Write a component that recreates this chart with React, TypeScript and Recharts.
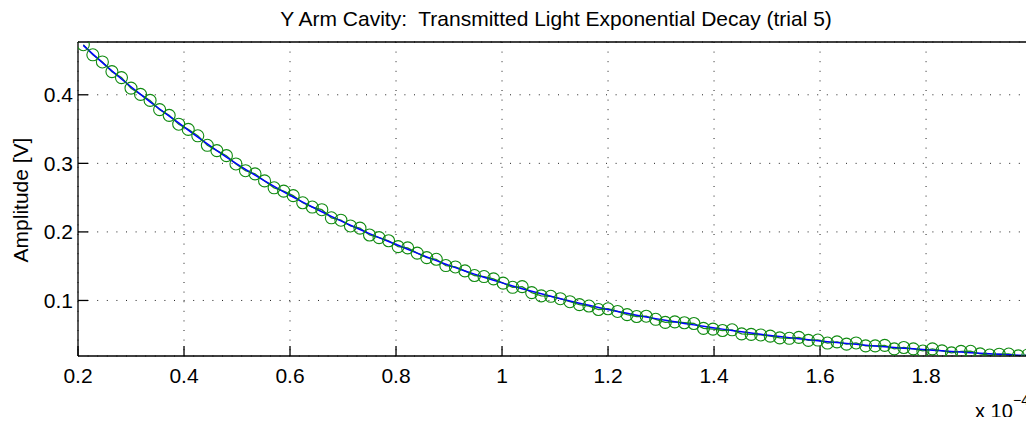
import { ComposedChart, Line, Scatter, XAxis, YAxis, CartesianGrid } from 'recharts';

// time axis, units of 1e-4 s
const TIME = [
  0.21, 0.228, 0.246, 0.264, 0.282, 0.3, 0.318, 0.336, 0.354, 0.372,
  0.39, 0.408, 0.426, 0.444, 0.462, 0.48, 0.498, 0.516, 0.534, 0.552,
  0.57, 0.588, 0.606, 0.624, 0.642, 0.66, 0.678, 0.696, 0.714, 0.732,
  0.75, 0.768, 0.786, 0.804, 0.822, 0.84, 0.858, 0.876, 0.894, 0.912,
  0.93, 0.948, 0.966, 0.984, 1.002, 1.02, 1.038, 1.056, 1.074, 1.092,
  1.11, 1.128, 1.146, 1.164, 1.182, 1.2, 1.218, 1.236, 1.254, 1.272,
  1.29, 1.308, 1.326, 1.344, 1.362, 1.38, 1.398, 1.416, 1.434, 1.452,
  1.47, 1.488, 1.506, 1.524, 1.542, 1.56, 1.578, 1.596, 1.614, 1.632,
  1.65, 1.668, 1.686, 1.704, 1.722, 1.74, 1.758, 1.776, 1.794, 1.812,
  1.83, 1.848, 1.866, 1.884, 1.902, 1.92, 1.938, 1.956, 1.974, 1.992,
];

// measured amplitude [V] (green circles)
const MEASURED = [
  0.473, 0.4583, 0.4479, 0.4338, 0.4251, 0.4097, 0.4006, 0.3918, 0.3783, 0.37,
  0.3571, 0.3495, 0.3402, 0.3263, 0.3186, 0.3112, 0.2991, 0.2893, 0.2847, 0.2744,
  0.2643, 0.2595, 0.2529, 0.2425, 0.2363, 0.2324, 0.2206, 0.2171, 0.2087, 0.2055,
  0.1955, 0.1917, 0.1871, 0.1786, 0.1767, 0.169, 0.1625, 0.1601, 0.1509, 0.1489,
  0.1431, 0.1364, 0.1349, 0.1315, 0.1253, 0.1192, 0.1202, 0.1114, 0.1067, 0.1061,
  0.1026, 0.0982, 0.094, 0.0919, 0.0868, 0.0879, 0.084, 0.0793, 0.0766, 0.077,
  0.0725, 0.0681, 0.0688, 0.0675, 0.0664, 0.0593, 0.0582, 0.0562, 0.0572, 0.0513,
  0.0505, 0.0497, 0.048, 0.0454, 0.0448, 0.0462, 0.0418, 0.0423, 0.0379, 0.0396,
  0.0363, 0.038, 0.0338, 0.0337, 0.0345, 0.0294, 0.0314, 0.0294, 0.0264, 0.0294,
  0.0265, 0.0236, 0.0258, 0.0259, 0.0221, 0.0204, 0.0216, 0.0219, 0.0192, 0.0205,
];

// exponential fit (blue line)
const FIT = [
  0.472, 0.4593, 0.4469, 0.4348, 0.4231, 0.4117, 0.4006, 0.3898, 0.3793, 0.369,
  0.3591, 0.3485, 0.3382, 0.3283, 0.3186, 0.3092, 0.3001, 0.2913, 0.2827, 0.2744,
  0.2663, 0.2585, 0.2509, 0.2435, 0.2363, 0.2294, 0.2226, 0.2161, 0.2097, 0.2035,
  0.1975, 0.1917, 0.1861, 0.1806, 0.1747, 0.169, 0.1635, 0.1581, 0.1529, 0.1479,
  0.1431, 0.1384, 0.1339, 0.1295, 0.1253, 0.1212, 0.1172, 0.1134, 0.1097, 0.1061,
  0.1026, 0.0992, 0.096, 0.0929, 0.0898, 0.0869, 0.084, 0.0813, 0.0786, 0.076,
  0.0735, 0.0711, 0.0688, 0.0665, 0.0644, 0.0623, 0.0602, 0.0582, 0.0562, 0.0543,
  0.0525, 0.0507, 0.049, 0.0474, 0.0458, 0.0442, 0.0428, 0.0413, 0.0399, 0.0386,
  0.0373, 0.036, 0.0348, 0.0337, 0.0325, 0.0314, 0.0304, 0.0294, 0.0284, 0.0274,
  0.0265, 0.0256, 0.0248, 0.0239, 0.0231, 0.0224, 0.0216, 0.0209, 0.0202, 0.0195,
];

const X_TICKS = [0.2, 0.4, 0.6, 0.8, 1, 1.2, 1.4, 1.6, 1.8];
const Y_TICKS = [0.1, 0.2, 0.3, 0.4];

const rows = TIME.map((t, i) => ({ t, meas: MEASURED[i], fit: FIT[i] }));

const W = 1026;
const H = 409; // keep body (8px margins) inside the 425px window
const FONT = '"Liberation Sans", Arial, Helvetica, sans-serif';
const X_DOMAIN: [number, number] = [0.2, 1.998];
const Y_DOMAIN: [number, number] = [0.019, 0.477];

const Ring = (props: any) => (
  <circle cx={props.cx} cy={props.cy} r={6} fill="none" stroke="#108a10" strokeWidth={1.1} />
);

export default function App() {
  const tickStyle = { fontSize: 21, fill: '#000' };
  return (
    <div style={{ position: 'relative', width: W, height: H, fontFamily: FONT, background: '#fff' }}>
      <style>{'html,body{overflow:hidden}'}</style>
      <ComposedChart
        width={W}
        height={H}
        data={rows}
        margin={{ top: 33, right: 2, bottom: 31, left: 0 }}
        style={{ overflow: 'visible' }}
      >
        <CartesianGrid stroke="#222" strokeDasharray="1 8.6" />
        <XAxis
          dataKey="t"
          type="number"
          domain={X_DOMAIN}
          allowDataOverflow
          ticks={X_TICKS}
          height={30}
          tickSize={-10}
          tickMargin={22}
          tick={tickStyle}
          stroke="#000"
          strokeWidth={1.3}
        />
        {/* frame: top and right axes with inward ticks, no labels */}
        <XAxis
          xAxisId="top"
          dataKey="t"
          orientation="top"
          type="number"
          domain={X_DOMAIN}
          allowDataOverflow
          ticks={X_TICKS}
          height={1}
          tickSize={-10}
          tick={false}
          stroke="#000"
          strokeWidth={1.3}
        />
        <YAxis
          type="number"
          domain={Y_DOMAIN}
          allowDataOverflow
          ticks={Y_TICKS}
          width={70}
          tickSize={-10}
          tickMargin={15}
          tick={tickStyle}
          stroke="#000"
          strokeWidth={1.3}
        />
        <YAxis
          yAxisId="right"
          orientation="right"
          type="number"
          domain={Y_DOMAIN}
          allowDataOverflow
          ticks={Y_TICKS}
          width={1}
          tickSize={-10}
          tick={false}
          stroke="#000"
          strokeWidth={1.3}
        />
        <Line
          xAxisId="top"
          yAxisId="right"
          dataKey="fit"
          stroke="none"
          dot={false}
          activeDot={false}
          isAnimationActive={false}
        />
        <Scatter dataKey="meas" shape={Ring} isAnimationActive={false} />
        <Line dataKey="meas" type="linear" stroke="#1a8f1a" strokeWidth={1.3} dot={false} isAnimationActive={false} />
        <Line dataKey="fit" type="linear" stroke="#0000ff" strokeWidth={1.5} dot={false} isAnimationActive={false} />
      </ComposedChart>
      <svg
        width={W}
        height={H}
        style={{ position: 'absolute', left: 0, top: 0, pointerEvents: 'none', fontFamily: FONT, overflow: 'visible' }}
      >
        <text x={548} y={18} textAnchor="middle" fontSize={21} fill="#000" style={{ whiteSpace: 'pre' }}>
          {'Y Arm Cavity:  Transmitted Light Exponential Decay (trial 5)'}
        </text>
        <text transform="translate(20,192) rotate(-90)" textAnchor="middle" fontSize={21} fill="#000">
          Amplitude [V]
        </text>
        <text x={967} y={410} fontSize={20} fill="#000">
          x 10
          <tspan x={1005} y={397} fontSize={14}>
            −4
          </tspan>
        </text>
      </svg>
    </div>
  );
}
